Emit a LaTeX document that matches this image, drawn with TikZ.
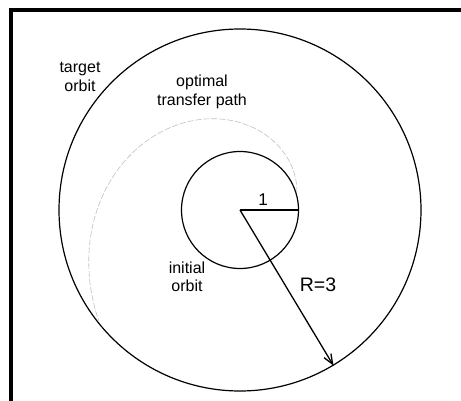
\documentclass[tikz,border=0pt]{standalone}
\usepackage{fontspec}
\setmainfont{Liberation Sans}
\usetikzlibrary{arrows.meta}
\begin{document}
\begin{tikzpicture}[x=1pt,y=-1pt,
  orbit/.style={circle,draw,line width=1.2pt,inner sep=0pt},
  lbl/.style={align=center,inner sep=0pt,font=\fontsize{16}{18.5}\selectfont},
  biglbl/.style={inner sep=0pt,font=\fontsize{19.5}{22}\selectfont},
  path/.style={draw=black!25,line width=0.6pt,dash pattern=on 6pt off 2pt}]
\useasboundingbox (0,0) rectangle (461,401);
% frame (left and top only)
\draw[line width=4pt,line join=miter] (11,405) -- (11,10) -- (465,10);
\coordinate (O) at (240,210);
\node[orbit,minimum size=362pt] (outer) at (O) {};
\node[orbit,minimum size=117pt] (inner) at (O) {};
% optimal transfer path (spiral)
\draw[path] plot[domain=0:201,samples=120,smooth]
  ({240+(59.5+0.35*\x+6.1*(\x/100)^3)*cos(\x+17)},
   {210-(59.5+0.35*\x+6.1*(\x/100)^3)*sin(\x+17)});
% radii
\draw[line width=2pt] (O) -- (inner.east);
\draw[line width=1.3pt,-{Straight Barb[length=10pt,width=8pt]}] (O) -- (outer.-59.4);
% labels
\node[lbl] (tgt) at (80,77) {target\\orbit};
\node[lbl] (opt) at (202,92) {optimal\\transfer path};
\node[lbl] (ini) at (187,277) {initial\\orbit};
\node[biglbl,font=\fontsize{17}{20}\selectfont] (one) at (263,200) {1};
\node[biglbl] (rr) at (318,285) {R=3};
\end{tikzpicture}
\end{document}
